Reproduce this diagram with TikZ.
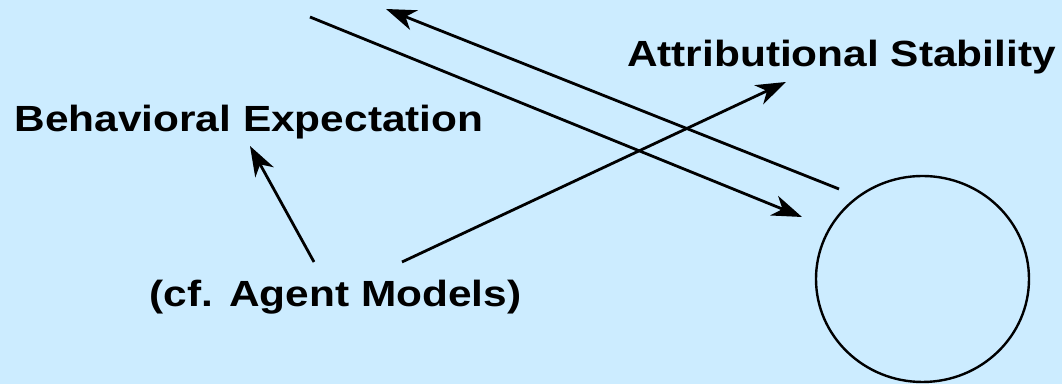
\documentclass[tikz,border=0pt]{standalone}
\usepackage{fontspec}
\usepackage{graphicx}
\setmainfont{Liberation Sans}
\usetikzlibrary{arrows.meta,shapes.geometric}
\definecolor{slidebg}{RGB}{204,236,255}
\begin{document}
\begin{tikzpicture}
            [x=0.5pt, y=0.5pt,
            % every node/.style={draw, inner sep=2pt},
            label/.style={anchor=base, inner sep=0pt,
                font=\bfseries\fontsize{18.2}{22}\selectfont},
            link/.style={draw=black, line width=1.4pt,
                -{Stealth[length=15pt, width=10.5pt, inset=4.5pt]}}]
            \fill [slidebg] (0,0) rectangle (1062,384);
            \useasboundingbox (0,0) rectangle (1062,384);
            \node [label] (attrib) at (841.5,317) {\scalebox{1.165}[1]{Attributional Stability}};
            \node [label] (behav) at (249,252) {\scalebox{1.165}[1]{Behavioral Expectation}};
            \node [label] (agent) at (335.5,77) {\scalebox{1.165}[1]{(cf. Agent Models)}};
            \node [ellipse, draw=black, line width=1.2pt, inner sep=0pt,
                minimum width=106.5pt, minimum height=103pt] (self) at (922.5,105) {};
            % end points of the connectors
            \coordinate (inTail) at (310,367);
            \coordinate (inTip) at (802,167);
            \coordinate (outTail) at (839,195);
            \coordinate (outTip) at (386,375);
            \coordinate (agentR) at (402,122);
            \coordinate (agentL) at (314,122);
            \coordinate (attribTip) at (786,302);
            \coordinate (behavTip) at (250,238);
            \draw [link] (inTail) -- (inTip);
            \draw [link] (outTail) -- (outTip);
            \draw [link] (agentR) -- (attribTip);
            \draw [link] (agentL) -- (behavTip);
\end{tikzpicture}
\end{document}
